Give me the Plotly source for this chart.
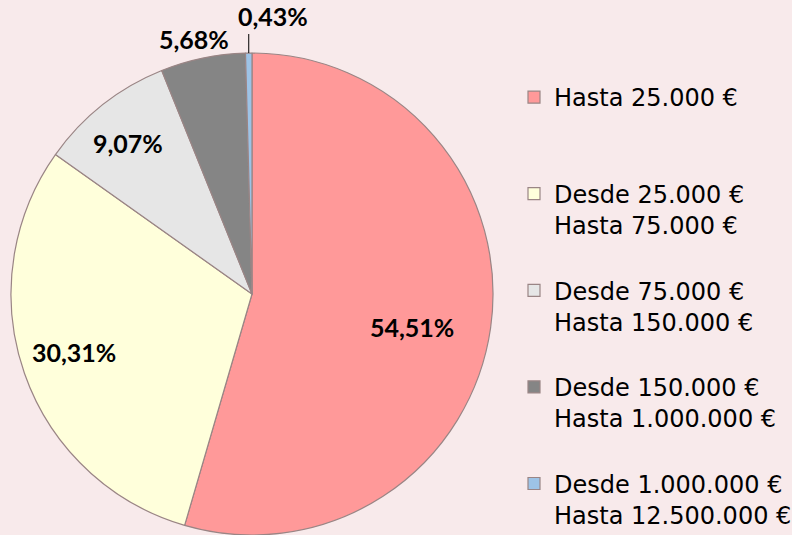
import math
import plotly.graph_objects as go

categories = [
    "Hasta 25.000 €",
    "Desde 25.000 €<br>Hasta 75.000 €",
    "Desde 75.000 €<br>Hasta 150.000 €",
    "Desde 150.000 €<br>Hasta 1.000.000 €",
    "Desde 1.000.000 €<br>Hasta 12.500.000 €",
]
values = [54.51, 30.31, 9.07, 5.68, 0.43]
colors = ["#FF9999", "#FFFFDB", "#E6E6E6", "#858585", "#9DC3E6"]

# label placement style: radial fraction of the radius, extra pixel shift
label_radius = [0.67, 0.78, 0.81, 1.07, 1.0]
label_shift = [(0, -10), (0, 4), (-3, -2), (-5, 3), (24, 37)]
leader_line = [False, False, False, False, True]

W, H = 792, 535
PIE_TOP = 53
dom_x = [10 / W, 494 / W]
dom_y = [0, (H - PIE_TOP) / H]

# pie geometry in pixels (derived from the domain)
diam = min((dom_x[1] - dom_x[0]) * W, (dom_y[1] - dom_y[0]) * H)
R = diam / 2
CX = (dom_x[0] + dom_x[1]) / 2 * W
CY = H - (dom_y[0] + dom_y[1]) / 2 * H  # from top

legend_labels = []
for i, c in enumerate(categories):
    if i == 0:
        legend_labels.append(c + "<br> <br> ")
    elif i < len(categories) - 1:
        legend_labels.append(c + "<br> ")
    else:
        legend_labels.append(c)

texts = [f"{v:.2f}%".replace(".", ",") for v in values]

fig = go.Figure(go.Pie(
    labels=legend_labels,
    values=values,
    textinfo="none",
    sort=False,
    direction="clockwise",
    rotation=0,
    marker=dict(colors=colors, line=dict(color="#9A8585", width=1.2)),
    domain=dict(x=dom_x, y=dom_y),
    hovertext=texts,
    hoverinfo="label+text",
))

total = sum(values)
cum = 0.0
annotations = []
shapes = []
for v, t, f, (sx, sy), ll in zip(values, texts, label_radius, label_shift, leader_line):
    mid = (cum + v / 2) / total * 2 * math.pi
    cum += v
    px = CX + f * R * math.sin(mid)
    py = CY - f * R * math.cos(mid)
    annotations.append(dict(
        x=px / W, y=1 - py / H, xref="paper", yref="paper",
        xanchor="center", yanchor="middle",
        text=t, showarrow=False, xshift=sx, yshift=sy,
        font=dict(family="Lato", size=25, color="#000000", weight="bold"),
    ))
    if ll:
        shapes.append(dict(
            type="line", xref="paper", yref="paper",
            x0=px / W, x1=px / W, y0=1 - py / H, y1=1 - (py - 19) / H,
            line=dict(color="#000000", width=1),
        ))

fig.update_layout(
    width=W, height=H,
    margin=dict(l=0, r=0, t=0, b=0, autoexpand=False),
    paper_bgcolor="#F8EAEB",
    plot_bgcolor="#F8EAEB",
    showlegend=True,
    annotations=annotations,
    shapes=shapes,
    legend=dict(
        x=514 / W, y=1 - 75 / H, xanchor="left", yanchor="top",
        font=dict(family="DejaVu Sans", size=24, color="#000000"),
        valign="top",
        bgcolor="rgba(0,0,0,0)",
        maxheight=530,
    ),
)

fig.write_html("out.html")
